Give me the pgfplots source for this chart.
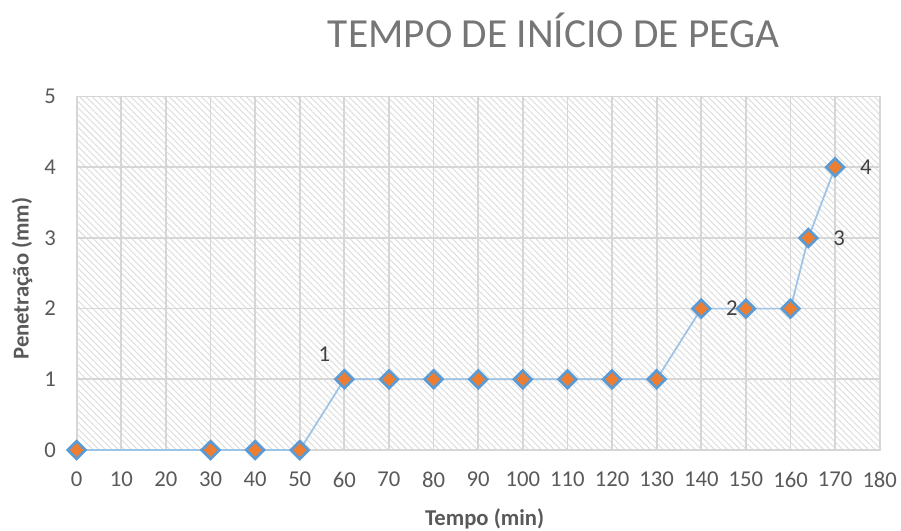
\documentclass[border=0pt]{standalone}
\usepackage{pgfplots}
\pgfplotsset{compat=1.18}
\usepackage{fontspec}
\setmainfont{Carlito}
\usetikzlibrary{patterns.meta}
\definecolor{gridc}{RGB}{214,214,214}
\definecolor{tickc}{RGB}{89,89,89}
\definecolor{titlec}{RGB}{118,118,118}
\definecolor{linec}{RGB}{157,195,230}
\definecolor{markb}{RGB}{91,155,213}
\definecolor{markf}{RGB}{237,125,49}
\definecolor{labc}{RGB}{64,64,64}
\begin{document}
\begin{tikzpicture}
\path[use as bounding box] (-57.5pt,-60pt) rectangle (618.2pt,337.5pt);
\begin{axis}[
  at={(0,0)}, anchor=south west,
  scale only axis, width=602.25pt, height=265.1pt,
  xmin=0, xmax=180, ymin=0, ymax=5,
  xtick={0,10,...,180}, ytick={0,1,...,5},
  /pgf/number format/assume math mode=true,
  tick style={draw=none},
  major tick length=0pt,
  grid=major,
  grid style={draw=gridc, line width=1.3pt},
  axis line style={draw=gridc, line width=1.3pt},
  axis background/.style={pattern={Lines[angle=-45,distance=3.4pt,line width=0.8pt]}, pattern color=gray!25},
  ticklabel style={font=\fontsize{17}{20}\selectfont, text=tickc},
  xticklabel style={yshift=-13pt},
  yticklabel style={xshift=-12pt},
  xlabel={Tempo (min)}, ylabel={Penetração (mm)},
  label style={font=\bfseries\fontsize{17}{20}\selectfont, text=tickc},
  xlabel style={at={(0.508,-0.195)}, anchor=center},
  ylabel style={at={(-0.068,0.485)}, anchor=center},
  title={TEMPO DE INÍCIO DE PEGA},
  title style={at={(0.594,1)}, anchor=center, yshift=43.9pt, font=\fontsize{31}{36}\selectfont, text=titlec},
  clip=false,
]
\addplot[color=linec, line width=1.3pt, mark=square*, mark size=4.7pt,
  mark options={rotate=45, fill=markf, draw=markb, line width=2pt}]
  coordinates {(0,0) (30,0) (40,0) (50,0) (60,1) (70,1) (80,1) (90,1) (100,1) (110,1) (120,1) (130,1) (140,2) (150,2) (160,2) (164,3) (170,4)};
\addplot[draw=none, mark=none, point meta=explicit symbolic, nodes near coords,
  every node near coord/.append style={anchor=center, xshift=-15pt, yshift=19pt, font=\fontsize{17}{20}\selectfont, text=labc}]
  coordinates {(60,1) [1]};
\addplot[draw=none, mark=none, point meta=explicit symbolic, nodes near coords,
  every node near coord/.append style={anchor=center, xshift=23pt, yshift=0pt, font=\fontsize{17}{20}\selectfont, text=labc}]
  coordinates {(140,2) [2] (164,3) [3] (170,4) [4]};
\end{axis}
\end{tikzpicture}
\end{document}
